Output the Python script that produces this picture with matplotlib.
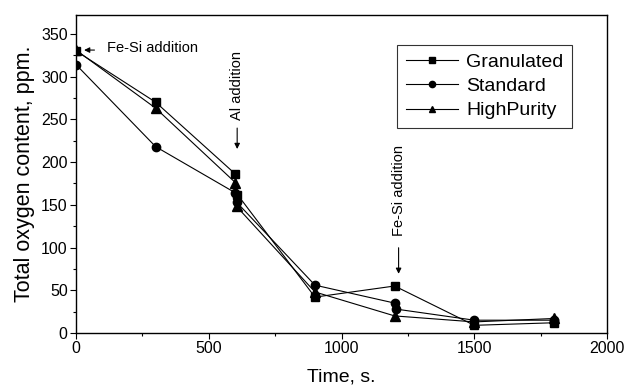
import matplotlib
matplotlib.use("Agg")
import matplotlib.pyplot as plt
from matplotlib.ticker import MultipleLocator

plt.rcParams['font.family'] = ['Liberation Sans', 'DejaVu Sans']

time_gran = [0, 300, 600, 608, 900, 1200, 1500, 1800]
oxy_gran = [330, 270, 186, 162, 42, 55, 9, 12]

time_std = [0, 300, 600, 605, 900, 1200, 1205, 1500, 1800]
oxy_std = [314, 218, 164, 153, 56, 35, 28, 15, 15]

time_hp = [0, 300, 600, 605, 900, 1200, 1500, 1800]
oxy_hp = [331, 263, 176, 148, 48, 20, 13, 17]

labels = ["Granulated", "Standard", "HighPurity"]

fig = plt.figure(figsize=(6.24, 3.87), dpi=100)
ax = fig.add_axes([0.1218, 0.1395, 0.851, 0.8217])

lw = 0.8
ax.plot(time_gran, oxy_gran, color='black', lw=lw, marker='s', ms=5.8, label=labels[0])
ax.plot(time_std, oxy_std, color='black', lw=lw, marker='o', ms=6, label=labels[1])
ax.plot(time_hp, oxy_hp, color='black', lw=lw, marker='^', ms=6.5, label=labels[2])

ax.set_xlim(0, 2000)
ax.set_ylim(0, 372)
ax.xaxis.set_major_locator(MultipleLocator(500))
ax.xaxis.set_minor_locator(MultipleLocator(250))
ax.yaxis.set_major_locator(MultipleLocator(50))
ax.yaxis.set_minor_locator(MultipleLocator(25))
ax.tick_params(which='major', direction='out', length=4, width=0.8, labelsize=11.5, pad=2)
ax.tick_params(which='minor', direction='out', length=2.5, width=0.8)
for s in ax.spines.values():
    s.set_linewidth(1.0)

ax.set_ylabel("Total oxygen content, ppm.", fontsize=15.5, labelpad=4)
ax.set_xlabel("Time, s.", fontsize=14, labelpad=9)

# annotations
ax.annotate("", xy=(20, 331), xytext=(80, 331),
            arrowprops=dict(arrowstyle='-|>', color='black', lw=0.8, mutation_scale=8))
ax.text(117, 333, "Fe-Si addition", fontsize=10.5, va='center', ha='left')

ax.text(607, 289, "Al addition", fontsize=10.5, rotation=90, va='center', ha='center')
ax.annotate("", xy=(607, 212), xytext=(607, 243),
            arrowprops=dict(arrowstyle='-|>', color='black', lw=0.8, mutation_scale=8))

ax.text(1217, 167, "Fe-Si addition", fontsize=10.5, rotation=90, va='center', ha='center')
ax.annotate("", xy=(1215, 66), xytext=(1215, 103),
            arrowprops=dict(arrowstyle='-|>', color='black', lw=0.8, mutation_scale=8))

leg = ax.legend(loc='upper left', bbox_to_anchor=(0.6045, 0.906), fontsize=14,
                frameon=True, fancybox=False, edgecolor='black', handlelength=2.7,
                handletextpad=0.4, borderpad=0.45, labelspacing=0.33, borderaxespad=0,
                markerscale=0.75)
leg.get_frame().set_linewidth(0.8)

fig.savefig("out.png", dpi=100)
